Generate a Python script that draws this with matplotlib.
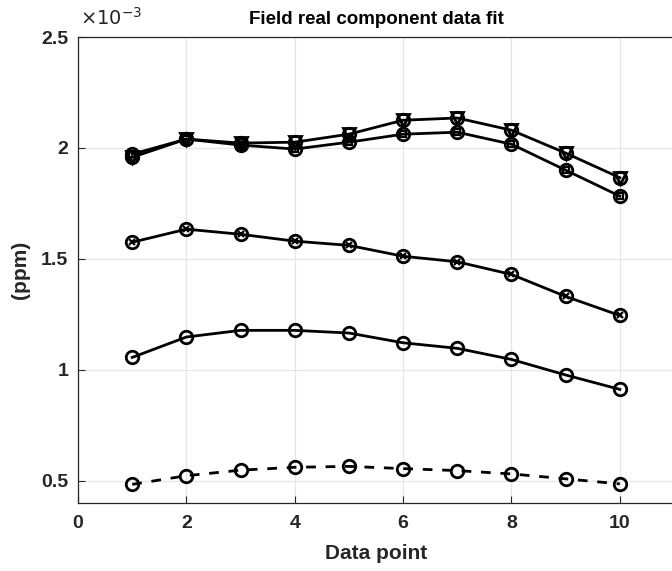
import matplotlib
matplotlib.use("Agg")
import matplotlib.pyplot as plt
import numpy as np

plt.rcParams['font.family'] = ['Liberation Sans', 'DejaVu Sans']

x = np.arange(1, 11)
# values in units of 1e-3 ppm
top_tri = [1.958, 2.040, 2.022, 2.026, 2.062, 2.125, 2.135, 2.080, 1.977, 1.866]
top_sq = [1.972, 2.040, 2.013, 1.995, 2.026, 2.062, 2.071, 2.017, 1.900, 1.783]
mid_x = [1.575, 1.634, 1.611, 1.580, 1.561, 1.512, 1.487, 1.430, 1.331, 1.245]
low_o = [1.056, 1.148, 1.178, 1.178, 1.166, 1.122, 1.097, 1.047, 0.977, 0.912]
dash_o = [0.484, 0.523, 0.548, 0.561, 0.565, 0.555, 0.546, 0.531, 0.509, 0.486]

scale = 1e-3
fig = plt.figure(figsize=(6.72, 5.71), dpi=100)
ax = fig.add_axes([78/672, 1-503/571, 596/672, 466/571])

lw = 2.0
ms = 9
mew = 2.0
kw = dict(color='black', lw=lw, markersize=ms, mew=mew, mfc='none', mec='black')
ax.plot(x, np.array(top_tri)*scale, marker='o', **kw)
ax.plot(x, np.array(top_tri)*scale, marker='v', ls='none', color='black', markersize=8, mew=mew, mfc='none')
ax.plot(x, np.array(top_sq)*scale, marker='o', **kw)
ax.plot(x, np.array(top_sq)*scale, marker='s', ls='none', color='black', markersize=4, mew=1.6, mfc='none')
ax.plot(x, np.array(mid_x)*scale, marker='o', **kw)
ax.plot(x, np.array(mid_x)*scale, marker='x', ls='none', color='black', markersize=5, mew=1.6)
ax.plot(x, np.array(low_o)*scale, marker='o', **kw)
ax.plot(x, np.array(dash_o)*scale, marker='o', ls=(0, (3.5, 3.5)), color='black', lw=lw,
        markersize=ms, mew=mew, mfc='none')

ax.set_xlim(0, 11)
ax.set_ylim(0.4e-3, 2.5e-3)
ax.set_xticks([0, 2, 4, 6, 8, 10])
ax.set_yticks(np.array([0.5, 1, 1.5, 2, 2.5])*scale)
ax.set_yticklabels(['0.5', '1', '1.5', '2', '2.5'])
ax.grid(True, color='#e6e6e6', lw=0.9)
ax.set_axisbelow(True)
ax.tick_params(direction='in', length=5, width=0.8, labelsize=14, colors='#262626',
               top=False, right=False)
ax.tick_params(axis='x', pad=9)
ax.tick_params(axis='y', pad=7)
for lab in ax.get_xticklabels() + ax.get_yticklabels():
    lab.set_fontweight('bold')
for s in ax.spines.values():
    s.set_color('#262626')
    s.set_linewidth(0.9)

ax.set_title('Field real component data fit', fontsize=13.5, fontweight='bold', pad=9)
ax.set_xlabel('Data point', fontsize=15, fontweight='bold', color='#262626', labelpad=8)
ax.set_ylabel('(ppm)', fontsize=15, fontweight='bold', color='#262626', labelpad=8)
fig.text(80/672, 1-18/571, r'$\times 10^{-3}$', fontsize=14, va='center', ha='left', color='#262626')

fig.savefig('out.png', dpi=100)
